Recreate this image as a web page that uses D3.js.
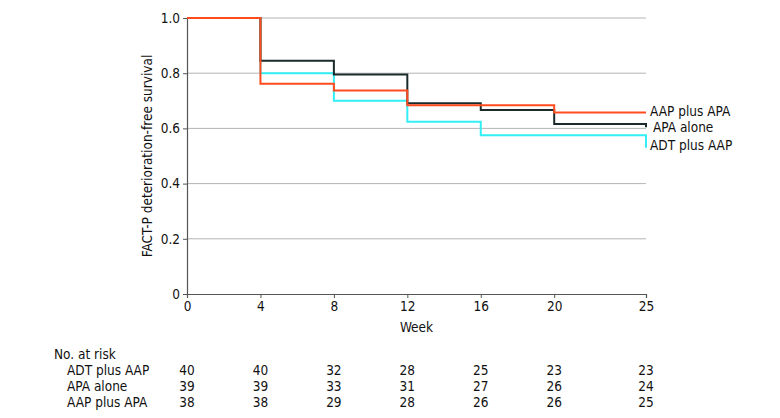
<!DOCTYPE html>
<html><head><meta charset="utf-8">
<script src="https://cdn.jsdelivr.net/npm/d3@7"></script>
<style>
body{margin:0;background:#fff;}
svg text{font-family:"DejaVu Sans Condensed","Liberation Sans Narrow",sans-serif;fill:#111;}
</style></head><body>
<svg id="c" width="780" height="418"></svg>
<script>
const weeks = [0, 4, 8, 12, 16, 20, 25];
const yTicks = [0, 0.2, 0.4, 0.6, 0.8, 1.0];
const seriesNames = ["AAP plus APA", "APA alone", "ADT plus AAP"];
const seriesColors = ["#ff4b1f", "#1b2b2b", "#33eef5"];
// step values: value from each week onward; last entry = value at end of follow-up (week 25)
const aapPlusApa = [1.0, 0.762, 0.737, 0.684, 0.684, 0.658, 0.658];
const apaAlone   = [1.0, 0.845, 0.795, 0.691, 0.667, 0.616, 0.604];
const adtPlusAap = [1.0, 0.800, 0.700, 0.624, 0.575, 0.575, 0.530];
const riskNames = ["ADT plus AAP", "APA alone", "AAP plus APA"];
const riskADT = [40, 40, 32, 28, 25, 23, 23];
const riskAPA = [39, 39, 33, 31, 27, 26, 24];
const riskAAP = [38, 38, 29, 28, 26, 26, 25];

const FS = 13.5;
const svg = d3.select("#c");
const x = d3.scaleLinear().domain([0, 25]).range([187, 646]);
const y = d3.scaleLinear().domain([0, 1]).range([294, 18]);

// grid
svg.append("g").selectAll("line").data(yTicks.filter(d => d > 0)).join("line")
  .attr("x1", x(0)).attr("x2", x(25)).attr("y1", d => y(d)).attr("y2", d => y(d))
  .attr("stroke", "#b4b4b4").attr("stroke-width", 1);

const yAxis = svg.append("g").attr("transform", `translate(${x(0)},0)`)
  .call(d3.axisLeft(y).tickValues(yTicks).tickFormat(d => d === 0 ? "0" : d3.format(".1f")(d)).tickSize(4).tickPadding(3));
const xAxis = svg.append("g").attr("transform", `translate(0,${y(0)})`)
  .call(d3.axisBottom(x).tickValues(weeks).tickSize(4).tickPadding(3));
[yAxis, xAxis].forEach(a => {
  a.select(".domain").attr("stroke", "#555").attr("stroke-width", 1.2);
  a.selectAll(".tick line").attr("stroke", "#555");
  a.selectAll("text").attr("font-size", FS).attr("fill", "#111");
});

// curves
const allSeries = [aapPlusApa, apaAlone, adtPlusAap];
const drawOrder = [2, 1, 0];
drawOrder.forEach(i => {
  const vals = allSeries[i];
  const pts = [];
  for (let k = 0; k < weeks.length - 1; k++) {
    pts.push([weeks[k], vals[k]]);
    pts.push([weeks[k + 1], vals[k]]);
  }
  pts.push([weeks[weeks.length - 1], vals[vals.length - 1]]);
  svg.append("path").datum(pts)
    .attr("d", d3.line().x(d => x(d[0])).y(d => y(d[1])))
    .attr("fill", "none").attr("stroke", seriesColors[i]).attr("stroke-width", 2);
});

// end labels
const labelY = [111, 127, 145];
const labelX = [650, 653, 650];
seriesNames.forEach((n, i) => {
  svg.append("text").attr("x", labelX[i]).attr("y", labelY[i]).attr("dy", "0.35em")
    .attr("font-size", FS).text(n);
});

// axis titles
svg.append("text").attr("transform", `translate(147,${(y(0)+y(1))/2}) rotate(-90)`)
  .attr("text-anchor", "middle").attr("dy", "0.35em").attr("font-size", FS)
  .text("FACT-P deterioration-free survival");
svg.append("text").attr("x", (x(0)+x(25))/2).attr("y", 327).attr("dy", "0.35em")
  .attr("text-anchor", "middle").attr("font-size", FS).text("Week");

// risk table
svg.append("text").attr("x", 54).attr("y", 354).attr("dy", "0.35em").attr("font-size", FS).text("No. at risk");
const riskRows = [riskADT, riskAPA, riskAAP];
const rowY = [370, 386, 402];
riskRows.forEach((row, r) => {
  svg.append("text").attr("x", 67).attr("y", rowY[r]).attr("dy", "0.35em").attr("font-size", FS).text(riskNames[r]);
  svg.append("g").selectAll("text").data(row).join("text")
    .attr("x", (d, k) => x(weeks[k])).attr("y", rowY[r]).attr("dy", "0.35em")
    .attr("text-anchor", "middle").attr("font-size", FS).text(d => d);
});
</script>
</body></html>
